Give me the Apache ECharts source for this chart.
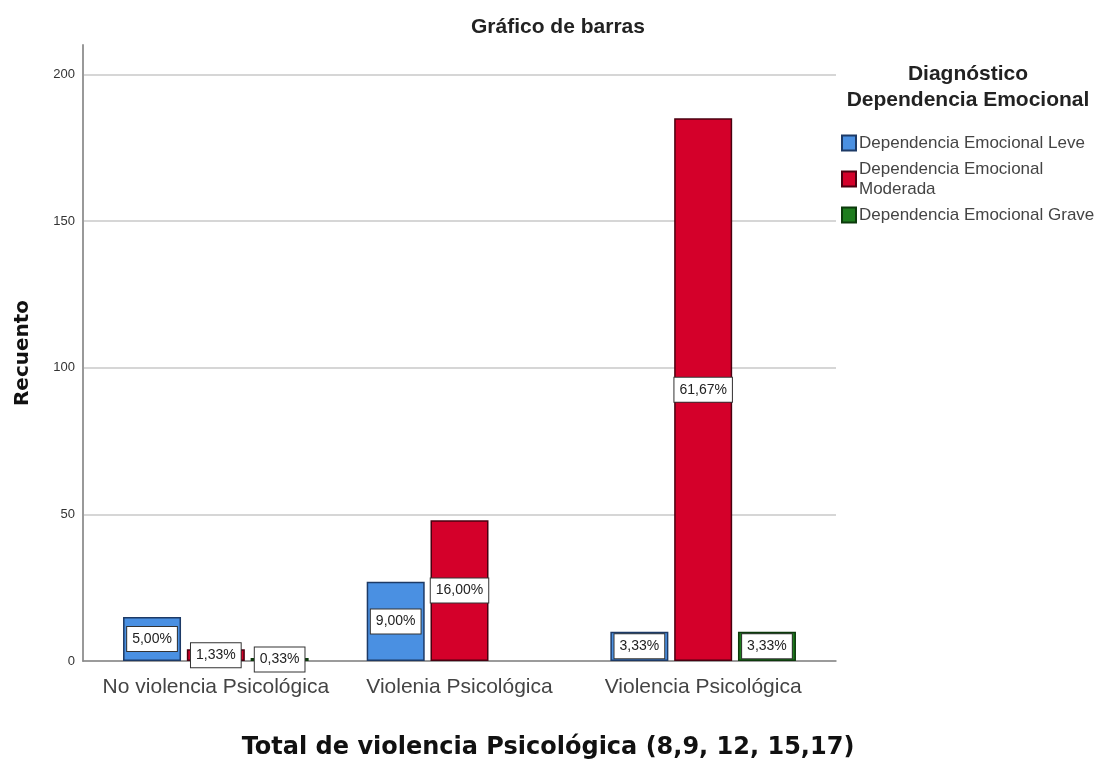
<!DOCTYPE html>
<html>
<head>
<meta charset="utf-8">
<script src="https://cdn.jsdelivr.net/npm/echarts@6/dist/echarts.min.js"></script>
<style>html,body{margin:0;padding:0;background:#fff}#c{width:1096px;height:761px}</style>
</head>
<body>
<div id="c"></div>
<script>
var categories = ['No violencia Psicológica', 'Violenia Psicológica', 'Violencia Psicológica'];
var seriesNames = ['Dependencia Emocional Leve', 'Dependencia Emocional Moderada', 'Dependencia Emocional Grave'];
var leveValues = [15, 27, 10];
var moderadaValues = [4, 48, 185];
var graveValues = [1, 0, 10];
var yTicks = [0, 50, 100, 150, 200];
var colors = ['#4a90e2', '#d4002a', '#1e7d1e'];
var borderColors = ['#1d3a66', '#4a0010', '#0c3a0c'];

var total = leveValues.concat(moderadaValues, graveValues).reduce(function (a, b) { return a + b; }, 0);
function pct(v) { return (v / total * 100).toFixed(2).replace('.', ',') + '%'; }

var narrow = "'Liberation Sans Narrow', 'Liberation Sans', sans-serif";

function makeSeries(name, vals, i) {
  return {
    name: name,
    type: 'bar',
    xAxisIndex: 0,
    yAxisIndex: 0,
    barWidth: 58,
    barGap: '10%',
    itemStyle: { color: colors[i], borderColor: borderColors[i], borderWidth: 1.5 },
    label: {
      show: true,
      position: 'inside',
      formatter: function (p) { return pct(p.value); },
      backgroundColor: '#fff',
      borderColor: '#333',
      borderWidth: 1,
      padding: [5, 5],
      fontSize: 14,
      color: '#222',
      fontFamily: narrow
    },
    data: vals.map(function (v) {
      return v === 0 ? { value: 0, itemStyle: { borderWidth: 0 }, label: { show: false } } : v;
    })
  };
}

var chart = echarts.init(document.getElementById('c'), null, { renderer: 'canvas' });
chart.setOption({
  backgroundColor: '#fff',
  animation: false,
  title: [
    { text: 'Gráfico de barras', left: 466, top: 12,
      textStyle: { fontSize: 21, fontWeight: 'bold', fontFamily: "'Liberation Sans', sans-serif", color: '#222' } },
    { text: 'Total de violencia Psicológica (8,9, 12, 15,17)', left: 'center', top: 731,
      textStyle: { fontSize: 24, fontWeight: 'bold', fontFamily: "'DejaVu Sans', sans-serif", color: '#111' } },
    { text: 'Diagnóstico\nDependencia Emocional', left: 963, top: 56, textAlign: 'center',
      textStyle: { fontSize: 21, lineHeight: 26, fontWeight: 'bold', fontFamily: "'Liberation Sans', sans-serif", color: '#222', align: 'center' } }
  ],
  legend: {
    orient: 'vertical',
    left: 836,
    top: 128,
    itemWidth: 14,
    itemHeight: 15,
    itemGap: 6,
    icon: 'rect',
    data: seriesNames,
    formatter: function (n) { return n === 'Dependencia Emocional Moderada' ? 'Dependencia Emocional\nModerada' : n; },
    textStyle: { fontSize: 17, lineHeight: 20, color: '#444', fontFamily: "'Liberation Sans', sans-serif", padding: [0, 0, 0, -2] }
  },
  grid: [
    { left: 94, right: 271, top: 45, bottom: 100 },
    { left: 83, right: 260, top: 45, bottom: 100 }
  ],
  xAxis: [
    { type: 'category', gridIndex: 0, data: categories,
      axisLine: { show: false }, axisTick: { show: false },
      axisLabel: { interval: 0, fontSize: 21, color: '#444', margin: 16, fontFamily: "'Liberation Sans', sans-serif" } },
    { type: 'category', gridIndex: 1, data: categories,
      axisLine: { show: true, lineStyle: { color: '#888', width: 1.5 } },
      axisTick: { show: false }, axisLabel: { show: false } }
  ],
  yAxis: [
    { type: 'value', gridIndex: 0, min: 0, max: 210, interval: 50, offset: 11,
      axisLine: { show: true, lineStyle: { color: '#999', width: 2 } },
      axisTick: { show: false },
      splitLine: { show: false },
      axisLabel: { fontSize: 13, color: '#333', margin: 8, fontFamily: narrow,
        formatter: function (v) { return yTicks.indexOf(v) >= 0 ? String(v) : ''; } },
      name: 'Recuento', nameLocation: 'middle', nameGap: 50,
      nameTextStyle: { fontSize: 20, fontWeight: 'bold', fontFamily: "'DejaVu Sans', sans-serif", color: '#111' } },
    { type: 'value', gridIndex: 1, min: 0, max: 210, interval: 50,
      axisLine: { show: false }, axisTick: { show: false }, axisLabel: { show: false },
      splitLine: { show: true, lineStyle: { color: ['#c8c8c8', '#c8c8c8', '#c8c8c8', '#c8c8c8', '#c8c8c8', 'rgba(0,0,0,0)'], width: 1.5 } } }
  ],
  series: [
    makeSeries(seriesNames[0], leveValues, 0),
    makeSeries(seriesNames[1], moderadaValues, 1),
    makeSeries(seriesNames[2], graveValues, 2)
  ]
});
</script>
</body>
</html>
